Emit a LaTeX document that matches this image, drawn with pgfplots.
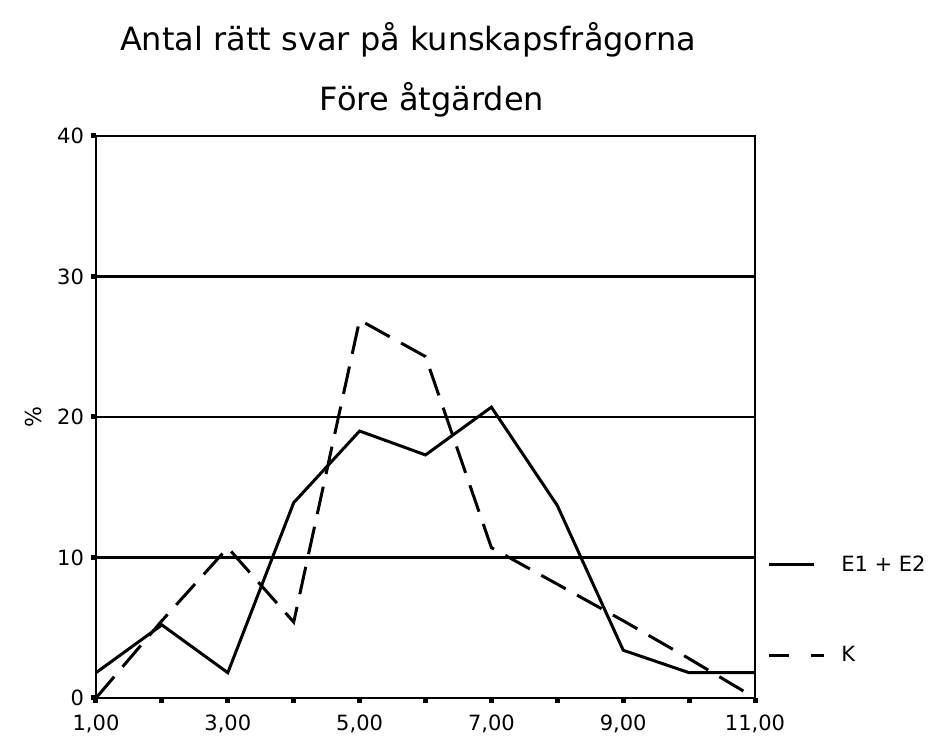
\documentclass[border=0pt]{standalone}
\usepackage{pgfplots}
\pgfplotsset{compat=1.18}
\usepackage{fontspec}
\setmainfont{DejaVu Sans}
\begin{document}
\begin{tikzpicture}
\path[use as bounding box] (-48pt,-19.5pt) rectangle (419.5pt,349pt);
\begin{axis}[
  at={(0,0)}, anchor=south west,
  scale only axis, width=329.5pt, height=281pt,
  xmin=1, xmax=11, ymin=0, ymax=40,
  axis line style={line width=1.2pt},
  xtick={1,2,3,4,5,6,7,8,9,10,11},
  xticklabels={{1,00},{},{3,00},{},{5,00},{},{7,00},{},{9,00},{},{11,00}},
  ytick={0,10,20,30,40},
  tick align=outside, major tick length=2.5pt,
  every tick/.style={line width=2.5pt, black},
  xtick pos=bottom, ytick pos=left,
  ymajorgrids, major grid style={solid, black, line width=1.1pt},
  /pgf/number format/assume math mode=true,
  ticklabel style={font=\fontsize{10.5}{12}\selectfont},
  xticklabel style={yshift=-2.5pt},
  ylabel={\%},
  ylabel style={font=\fontsize{11}{12}\selectfont, at={(axis description cs:-0.0956,0.5)}, anchor=center},
  legend style={at={(rel axis cs:1,0)}, anchor=south west, xshift=3pt, yshift=12.5pt, draw=none, fill=none,
    font=\fontsize{10.5}{12}\selectfont, row sep=32pt,
    /tikz/every odd column/.append style={column sep=6pt}},
  legend cell align=left,
  legend image code/.code={\draw[#1] (0pt,0pt) -- (22.5pt,0pt);},
]
\addplot[black, line width=1.5pt] coordinates {(1,1.8)(2,5.2)(3,1.8)(4,13.9)(5,19.0)(6,17.3)(7,20.7)(8,13.7)(9,3.4)(10,1.8)(11,1.8)};
\addlegendentry{E1 + E2}
\addplot[black, line width=1.5pt, dash pattern=on 14pt off 6.5pt,
  legend image code/.code={\draw[black, line width=1.5pt, dash pattern=on 10pt off 11pt on 6.5pt off 1pt] (0pt,0pt) -- (27.5pt,0pt);}]
  coordinates {(1,0)(2,5.5)(3,10.7)(4,5.4)(5,26.9)(6,24.3)(7,10.7)(8,8.1)(9,5.5)(10,2.8)(11,0)};
\addlegendentry{K}
\end{axis}
\node[font=\fontsize{16}{18}\selectfont] at (156pt,329pt) {Antal rätt svar på kunskapsfrågorna};
\node[font=\fontsize{16}{18}\selectfont] at (168pt,299pt) {Före åtgärden};
\end{tikzpicture}
\end{document}
